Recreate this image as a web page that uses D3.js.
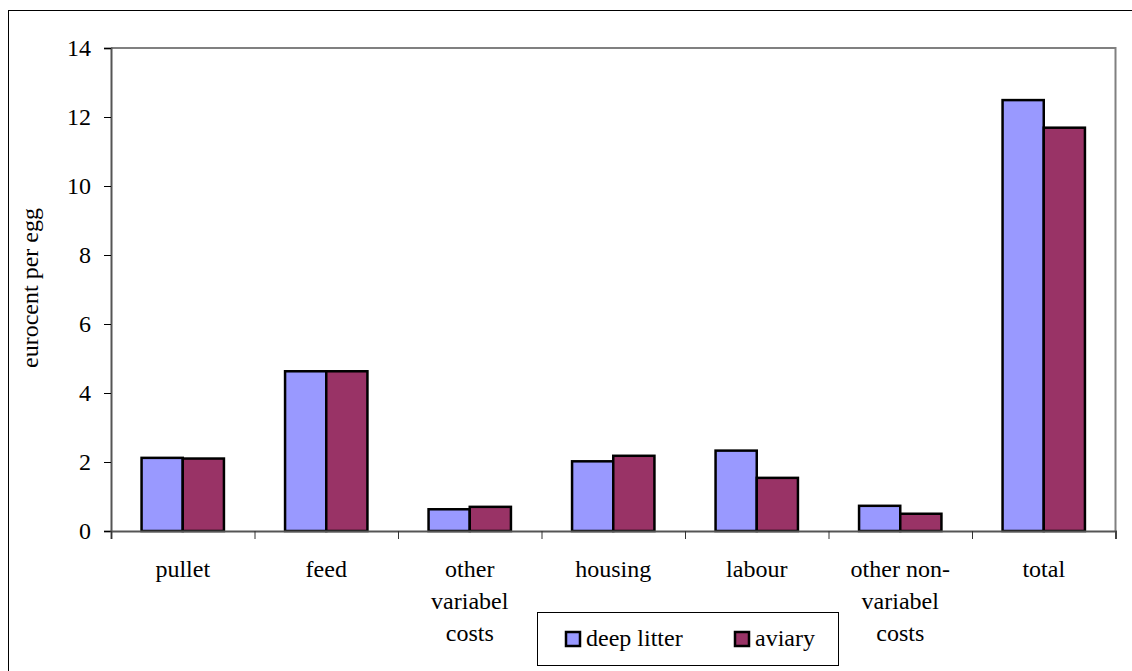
<!DOCTYPE html>
<html><head><meta charset="utf-8">
<script src="https://cdn.jsdelivr.net/npm/d3@7/dist/d3.min.js"></script>
<style>body{margin:0;background:#fff}svg{display:block}</style>
</head><body><svg id="c" width="1132" height="671"></svg>
<script>
const categories = [["pullet"],["feed"],["other","variabel","costs"],["housing"],["labour"],["other non-","variabel","costs"],["total"]];
const seriesNames = ["deep litter","aviary"];
const deepLitter = [2.12, 4.63, 0.63, 2.02, 2.33, 0.73, 12.49];
const aviary = [2.10, 4.63, 0.70, 2.18, 1.54, 0.50, 11.69];
const colors = ["#9999ff","#993366"];
const yTicks = [0,2,4,6,8,10,12,14];

const FONT = "Liberation Serif, DejaVu Serif, serif";
const svg = d3.select("#c").attr("font-family", FONT);
svg.append("rect").attr("x",8.5).attr("y",10.5).attr("width",1140).attr("height",680).attr("fill","none").attr("stroke","#000");

const L=111, R=1115.5, T=48, B=531;
const FS=24;
const x = d3.scaleBand().domain(d3.range(categories.length)).range([L,R]).paddingInner(0).paddingOuter(0);
const x1 = d3.scaleBand().domain([0,1]).range([x.bandwidth()*0.213, x.bandwidth()*0.787]);
const y = d3.scaleLinear().domain([0,14]).range([B,T]);

svg.append("path").attr("d",`M${L},${T}H${R}V${B}`).attr("fill","none").attr("stroke","#808080").attr("stroke-width",2);

const series=[deepLitter, aviary];
categories.forEach((c,i)=>{
  series.forEach((s,j)=>{
    svg.append("rect").attr("x",x(i)+x1(j)).attr("y",y(s[i])).attr("width",x1.bandwidth()).attr("height",B-y(s[i]))
      .attr("fill",colors[j]).attr("stroke","#000").attr("stroke-width",2.5);
  });
});

const ya = svg.append("g").attr("transform",`translate(${L},0)`).call(d3.axisLeft(y).tickValues(yTicks).tickSize(7).tickPadding(13).tickFormat(d3.format("d")));
ya.attr("font-family",FONT);
ya.select(".domain").attr("stroke","#555").attr("stroke-width",2);
ya.selectAll(".tick line").attr("stroke","#000");
ya.selectAll("text").attr("font-size",FS).attr("fill","#000").attr("font-family",FONT);

const xa = svg.append("g").attr("transform",`translate(0,${B})`)
  .call(d3.axisBottom(d3.scaleLinear().domain([0,7]).range([L,R])).tickValues(d3.range(8)).tickSize(8).tickFormat(""));
xa.select(".domain").attr("stroke","#555").attr("stroke-width",2);
xa.selectAll(".tick line").attr("stroke","#333");

categories.forEach((lines,i)=>{
  const t = svg.append("text").attr("x",x(i)+x.bandwidth()/2).attr("y",577).attr("text-anchor","middle").attr("font-size",FS).attr("fill","#000").attr("font-family",FONT);
  lines.forEach((ln,k)=>t.append("tspan").attr("x",x(i)+x.bandwidth()/2).attr("dy",k?32:0).text(ln));
});

svg.append("text").attr("transform","translate(38,288) rotate(-90)").attr("text-anchor","middle").attr("font-size",FS).attr("fill","#000").attr("font-family",FONT).text("eurocent per egg");

const lg = svg.append("g");
lg.append("rect").attr("x",537.5).attr("y",612.5).attr("width",301).attr("height",53).attr("fill","#fff").attr("stroke","#000");
const lx=[566,735];
seriesNames.forEach((n,j)=>{
  lg.append("rect").attr("x",lx[j]).attr("y",632).attr("width",14).attr("height",14).attr("fill",colors[j]).attr("stroke","#000").attr("stroke-width",2.5);
  lg.append("text").attr("x",lx[j]+20).attr("y",646).attr("font-size",FS).attr("fill","#000").attr("font-family",FONT).text(n);
});
</script></body></html>
